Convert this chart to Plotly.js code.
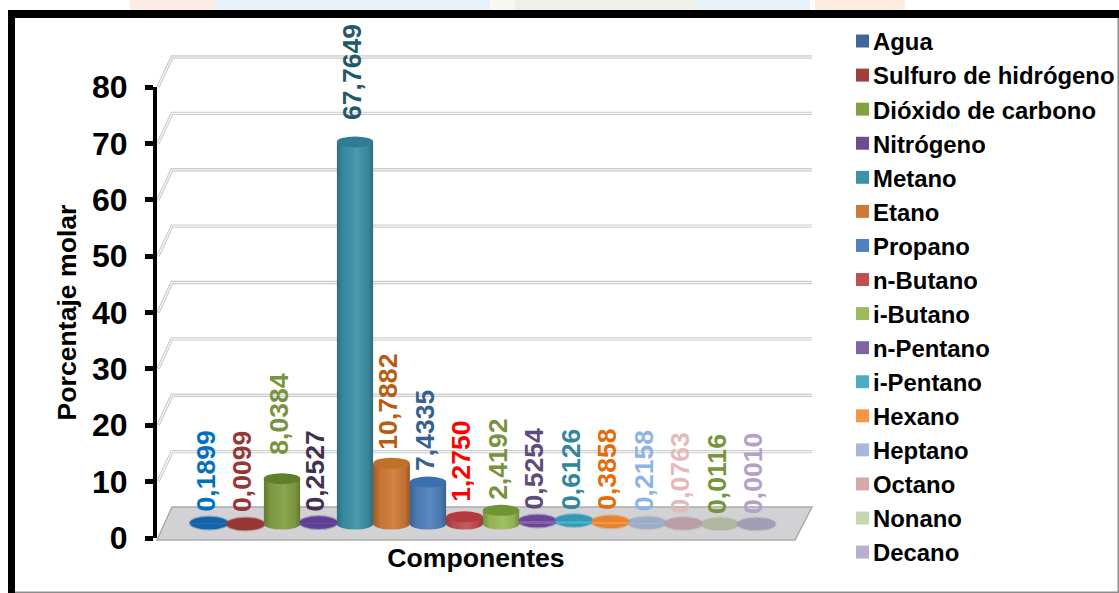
<!DOCTYPE html>
<html>
<head>
<meta charset="utf-8">
<script src="https://cdn.plot.ly/plotly-3.0.1.min.js"></script>
<style>html,body{margin:0;padding:0;background:#fff}#chart{width:1119px;height:593px}</style>
</head>
<body>
<div id="chart"></div>
<script>
// Molar composition of the gas stream
const components = ['Agua','Sulfuro de hidrógeno','Dióxido de carbono','Nitrógeno','Metano','Etano','Propano','n-Butano','i-Butano','n-Pentano','i-Pentano','Hexano','Heptano','Octano','Nonano','Decano'];
const molarPercent = [0.1899,0.0099,8.0384,0.2527,67.7649,10.7882,7.4335,1.2750,2.4192,0.5254,0.6126,0.3858,0.2158,0.0763,0.0116,0.0010];
const yTicks = [0,10,20,30,40,50,60,70,80];

// Styling per component
const legendColors = ['#3F6797','#A23F3D','#83A043','#6A4E8D','#3C91A7','#CE7A37','#4E81BD','#C0504D','#9BBB59','#8064A2','#4BACC6','#F79646','#A8B8D8','#D8A8A8','#C6D6AE','#B8AECD'];
const capColors = ['#0A62AB','#93302F','#5F7F2C','#5B3A93','#2F7C93','#C26F28','#3C6FB0','#B53A40','#6F9432','#6A3F9A','#2C96B4','#E8822A','#8A9DC4','#B08A96','#A3AF8E','#8F8AA8'];
const labelColors = ['#0070C0','#953735','#77933C','#403152','#215968','#B85C10','#376092','#FF0000','#77933C','#604A7B','#31859C','#E46C0A','#8EB4E3','#E6B9B8','#77933C','#B3A2C7'];
const labelGaps = [13,14,26,13,24,15,13,17,12,13,12,14,13,12,12,12];

const FONT = 'Liberation Sans, Arial, sans-serif';
const W = 1119, H = 593, LEFT = 157, RIGHT = 795, TOP = 87, BOTTOM = 538;
const SLOT = 36.5, FIRST = 209;              // pixel pitch and centre of the first cylinder
const YMAX = 80;
const UNIT = (BOTTOM - TOP) / YMAX;          // pixels per percent
const LIFT = 14 / UNIT;                      // cylinders stand back from the front edge of the floor
const CAP = 5.5 / UNIT;                      // half height of the elliptical ends
const HALF = 0.5;

const px = p => (p - LEFT) / (RIGHT - LEFT);
const py = p => (BOTTOM - p) / (BOTTOM - TOP);

const shapes = [];
const paperShape = o => shapes.push(Object.assign({xref:'paper', yref:'paper', layer:'below'}, o));
const rect = (x0, y0, x1, y1, color) => paperShape({type:'rect', x0:px(x0), x1:px(x1), y0:py(y0), y1:py(y1), fillcolor:color, line:{width:0}});

// Faint band above the frame
[[130,215,'#FBEBE2'],[215,490,'#E6F2FA'],[490,515,'#F7F8F2'],[515,700,'#EEF1EA'],[700,810,'#E6F2FA'],[815,905,'#FBEEDF']]
  .forEach(b => rect(b[0], 0, b[1], 10, b[2]));

// Frame: heavy black on top and left, thin grey on right and bottom
rect(8, 10, W, 18, '#000000');
rect(8, 10, 15, H, '#000000');
rect(W - 1.5, 18, W, H, '#8C8C8C');
rect(15, H - 1.5, W, H, '#8C8C8C');

// Back wall gridlines with their returns to the value axis
const wallPath = t => {
  const y = BOTTOM - t * UNIT;
  return `M${px(LEFT + 1)},${py(y)} L${px(172)},${py(y - 30)} L${px(812)},${py(y - 30)}`;
};
yTicks.filter(t => t > 0).forEach(t => {
  paperShape({type:'path', path:wallPath(t), line:{color:'#CCCCCC', width:3.4}});
  paperShape({type:'path', path:wallPath(t), line:{color:'#F6F6F6', width:1.2}});
});

// Floor slab
paperShape({type:'path',
  path:`M${px(157)},${py(540)} L${px(172)},${py(507)} L${px(812)},${py(507)} L${px(795)},${py(540)} Z`,
  fillcolor:'#D2D2D4', line:{color:'#ABABAB', width:1.5}});

// Elliptical ends of the cylinders
const ellipse = (i, yc, fill, layer, opacity, grow) => shapes.push({
  type:'circle', xref:'x', yref:'y', layer:layer,
  x0:i - HALF - (grow || 0) / SLOT, x1:i + HALF + (grow || 0) / SLOT,
  y0:yc - CAP - (grow || 0) / UNIT, y1:yc + CAP + (grow || 0) / UNIT,
  fillcolor:fill, opacity:opacity, line:{width:0}
});

const traces = [];
// One bar per component, which also feeds the legend
components.forEach((name, i) => {
  traces.push({
    type:'bar', name:name, x:[i], y:[molarPercent[i]], base:[LIFT], width:[2 * HALF],
    marker:{color:legendColors[i], line:{width:0}}, hoverinfo:'skip'
  });
});
// Cylinder side shading laid over the bars, with a rounded lower edge
components.forEach((name, i) => {
  const v = molarPercent[i];
  if (v > 1) {
    ellipse(i, LIFT, legendColors[i], 'below', 1);
    const xs = [i - HALF], ys = [LIFT + v];
    for (let a = 180; a <= 360; a += 10) {
      xs.push(i + HALF * Math.cos(a * Math.PI / 180));
      ys.push(LIFT + CAP * Math.sin(a * Math.PI / 180));
    }
    xs.push(i + HALF); ys.push(LIFT + v);
    traces.push({
      type:'scatter', mode:'none', x:xs, y:ys, fill:'toself', showlegend:false, hoverinfo:'skip',
      fillcolor:'rgba(0,0,0,0)',
      fillgradient:{type:'horizontal', colorscale:[
        [0,'rgba(0,0,0,0.24)'],[0.2,'rgba(0,0,0,0.04)'],[0.55,'rgba(255,255,255,0.08)'],[0.85,'rgba(0,0,0,0.06)'],[1,'rgba(0,0,0,0.26)']
      ]}
    });
    ellipse(i, LIFT + v, capColors[i], 'above', 1);
  } else {
    // Very small fractions read as soft discs resting on the floor
    const fade = i >= 12 ? 0.62 : 0.95;
    ellipse(i, LIFT + v, capColors[i], 'below', fade * 0.4, 2);
    ellipse(i, LIFT + v, capColors[i], 'below', fade, 0.8);
  }
});

// Value labels set vertically over each cylinder
const annotations = components.map((name, i) => ({
  xref:'x', yref:'y', x:i, y:LIFT + molarPercent[i], xanchor:'center', yanchor:'bottom',
  xshift:-3, yshift:labelGaps[i] - 2, textangle:-90, showarrow:false, borderpad:0, borderwidth:0,
  text:molarPercent[i].toFixed(4).replace('.', ','),
  font:{family:FONT, size:26.6, color:labelColors[i], weight:700}
}));

const layout = {
  width:W, height:H,
  margin:{l:LEFT, r:W - RIGHT, t:TOP, b:H - BOTTOM, pad:0, autoexpand:false},
  paper_bgcolor:'#FFFFFF', plot_bgcolor:'rgba(0,0,0,0)',
  barmode:'overlay', bargap:0,
  showlegend:true,
  legend:{x:px(833), y:py(19), xanchor:'left', yanchor:'top', bgcolor:'rgba(0,0,0,0)', borderwidth:0,
    maxheight:H, traceorder:'normal', font:{family:FONT, size:23.9, color:'#000000', weight:700}},
  xaxis:{
    type:'linear', range:[(LEFT - FIRST) / SLOT, (RIGHT - FIRST) / SLOT],
    showgrid:false, zeroline:false, showline:false, ticks:'', showticklabels:false, fixedrange:true,
    title:{text:'Componentes', standoff:10, font:{family:FONT, size:26.6, color:'#000000', weight:700}}
  },
  yaxis:{
    range:[0, YMAX], tickmode:'array', tickvals:yTicks, ticktext:yTicks.map(String),
    showgrid:false, zeroline:false, showline:true, linecolor:'#000000', linewidth:4,
    ticks:'outside', ticklen:8, tickwidth:5, tickcolor:'#000000', ticklabelstandoff:11,
    tickfont:{family:FONT, size:32, color:'#000000', weight:700}, fixedrange:true,
    title:{text:'Porcentaje molar', standoff:9, font:{family:FONT, size:26.6, color:'#000000', weight:700}}
  },
  shapes:shapes, annotations:annotations
};

Plotly.newPlot('chart', traces, layout, {staticPlot:true, displayModeBar:false}).then(gd => {
  // Bring the legend swatches in closer to their names
  gd.querySelectorAll('.legend .legendpoints').forEach(g => {
    g.setAttribute('transform', 'translate(9.5,0) translate(20,0) scale(1.08) translate(-20,0)');
  });
});
</script>
</body>
</html>
